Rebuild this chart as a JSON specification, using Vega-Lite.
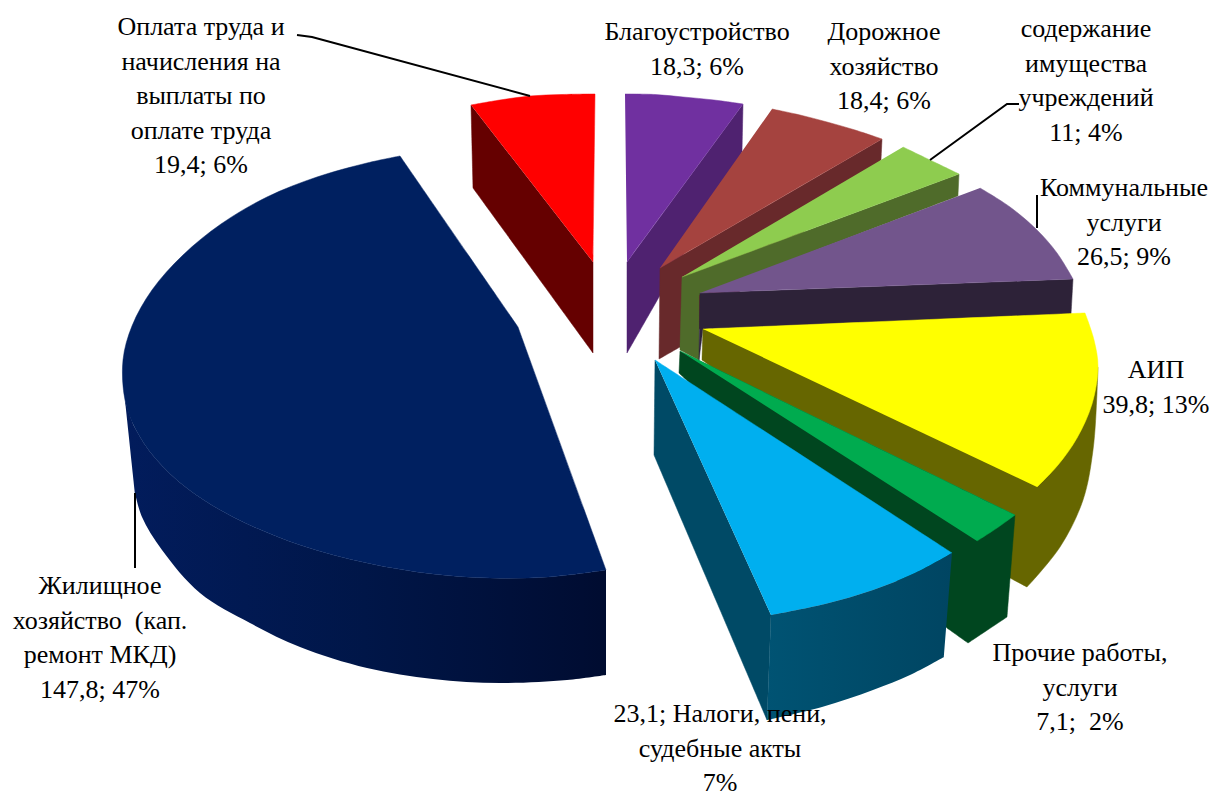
{"$schema":"https://vega.github.io/schema/vega-lite/v6.json","width":1213,"height":797,"padding":0,"autosize":{"type":"none"},"background":"white","config":{"view":{"stroke":null}},
"datasets":{
"faces":[
{"id":"01 red side","s":0,"x":471,"y":105},{"id":"01 red side","s":1,"x":471,"y":105},{"id":"01 red side","s":2,"x":473,"y":188},{"id":"01 red side","s":3,"x":473,"y":188},{"id":"01 red side","s":4,"x":593,"y":353},{"id":"01 red side","s":5,"x":593,"y":353},{"id":"01 red side","s":6,"x":593,"y":262},{"id":"01 red side","s":7,"x":593,"y":262},
{"id":"02 red top","s":0,"x":471,"y":105},{"id":"02 red top","s":1,"x":471,"y":105},{"id":"02 red top","s":2,"x":500,"y":100},{"id":"02 red top","s":3,"x":530,"y":96},{"id":"02 red top","s":4,"x":562,"y":94.5},{"id":"02 red top","s":5,"x":595,"y":94},{"id":"02 red top","s":6,"x":595,"y":94},{"id":"02 red top","s":7,"x":593,"y":262},{"id":"02 red top","s":8,"x":593,"y":262},
{"id":"04 navy top","s":0,"x":400,"y":156},{"id":"04 navy top","s":1,"x":400,"y":156},{"id":"04 navy top","s":2,"x":367,"y":163},{"id":"04 navy top","s":3,"x":317,"y":177},{"id":"04 navy top","s":4,"x":267,"y":197},{"id":"04 navy top","s":5,"x":221,"y":224},{"id":"04 navy top","s":6,"x":183,"y":255},{"id":"04 navy top","s":7,"x":152,"y":290},{"id":"04 navy top","s":8,"x":132,"y":326},{"id":"04 navy top","s":9,"x":123,"y":360},{"id":"04 navy top","s":10,"x":125,"y":400},{"id":"04 navy top","s":11,"x":135,"y":428},{"id":"04 navy top","s":12,"x":155,"y":458},{"id":"04 navy top","s":13,"x":188,"y":489},{"id":"04 navy top","s":14,"x":235,"y":518},{"id":"04 navy top","s":15,"x":300,"y":545},{"id":"04 navy top","s":16,"x":367,"y":563},{"id":"04 navy top","s":17,"x":433,"y":574},{"id":"04 navy top","s":18,"x":490,"y":578},{"id":"04 navy top","s":19,"x":548,"y":577},{"id":"04 navy top","s":20,"x":606,"y":570},{"id":"04 navy top","s":21,"x":606,"y":570},{"id":"04 navy top","s":22,"x":518,"y":327},{"id":"04 navy top","s":23,"x":518,"y":327},{"id":"04 navy top","s":24,"x":400,"y":156},{"id":"04 navy top","s":25,"x":400,"y":156},
{"id":"05 purple side","s":0,"x":743,"y":104},{"id":"05 purple side","s":1,"x":743,"y":104},{"id":"05 purple side","s":2,"x":742,"y":152},{"id":"05 purple side","s":3,"x":742,"y":152},{"id":"05 purple side","s":4,"x":627,"y":353},{"id":"05 purple side","s":5,"x":627,"y":353},{"id":"05 purple side","s":6,"x":627,"y":262},{"id":"05 purple side","s":7,"x":627,"y":262},
{"id":"06 purple top","s":0,"x":625,"y":94},{"id":"06 purple top","s":1,"x":625,"y":94},{"id":"06 purple top","s":2,"x":655,"y":94.5},{"id":"06 purple top","s":3,"x":683,"y":97},{"id":"06 purple top","s":4,"x":714,"y":100},{"id":"06 purple top","s":5,"x":743,"y":104},{"id":"06 purple top","s":6,"x":743,"y":104},{"id":"06 purple top","s":7,"x":627,"y":262},{"id":"06 purple top","s":8,"x":627,"y":262},
{"id":"07 brown side","s":0,"x":882,"y":139},{"id":"07 brown side","s":1,"x":882,"y":139},{"id":"07 brown side","s":2,"x":881,"y":160},{"id":"07 brown side","s":3,"x":881,"y":160},{"id":"07 brown side","s":4,"x":680,"y":347},{"id":"07 brown side","s":5,"x":680,"y":347},{"id":"07 brown side","s":6,"x":659,"y":359},{"id":"07 brown side","s":7,"x":659,"y":359},{"id":"07 brown side","s":8,"x":660,"y":268},{"id":"07 brown side","s":9,"x":660,"y":268},
{"id":"08 brown top","s":0,"x":772,"y":109},{"id":"08 brown top","s":1,"x":772,"y":109},{"id":"08 brown top","s":2,"x":800,"y":115},{"id":"08 brown top","s":3,"x":827,"y":122},{"id":"08 brown top","s":4,"x":855,"y":130},{"id":"08 brown top","s":5,"x":882,"y":139},{"id":"08 brown top","s":6,"x":882,"y":139},{"id":"08 brown top","s":7,"x":660,"y":268},{"id":"08 brown top","s":8,"x":660,"y":268},
{"id":"09 lime side","s":0,"x":959,"y":174},{"id":"09 lime side","s":1,"x":959,"y":174},{"id":"09 lime side","s":2,"x":958,"y":196},{"id":"09 lime side","s":3,"x":958,"y":196},{"id":"09 lime side","s":4,"x":699,"y":295},{"id":"09 lime side","s":5,"x":699,"y":295},{"id":"09 lime side","s":6,"x":699,"y":360},{"id":"09 lime side","s":7,"x":699,"y":360},{"id":"09 lime side","s":8,"x":680,"y":350},{"id":"09 lime side","s":9,"x":680,"y":350},{"id":"09 lime side","s":10,"x":682,"y":277},{"id":"09 lime side","s":11,"x":682,"y":277},
{"id":"10 lime top","s":0,"x":903,"y":147},{"id":"10 lime top","s":1,"x":903,"y":147},{"id":"10 lime top","s":2,"x":930,"y":160},{"id":"10 lime top","s":3,"x":959,"y":174},{"id":"10 lime top","s":4,"x":959,"y":174},{"id":"10 lime top","s":5,"x":682,"y":277},{"id":"10 lime top","s":6,"x":682,"y":277},
{"id":"11 violet side","s":0,"x":1073,"y":279},{"id":"11 violet side","s":1,"x":1073,"y":279},{"id":"11 violet side","s":2,"x":1071,"y":315},{"id":"11 violet side","s":3,"x":1071,"y":315},{"id":"11 violet side","s":4,"x":703,"y":329},{"id":"11 violet side","s":5,"x":703,"y":329},{"id":"11 violet side","s":6,"x":699,"y":360},{"id":"11 violet side","s":7,"x":699,"y":360},{"id":"11 violet side","s":8,"x":700,"y":293},{"id":"11 violet side","s":9,"x":700,"y":293},
{"id":"12 violet top","s":0,"x":980,"y":188},{"id":"12 violet top","s":1,"x":980,"y":188},{"id":"12 violet top","s":2,"x":1010,"y":207},{"id":"12 violet top","s":3,"x":1037,"y":230},{"id":"12 violet top","s":4,"x":1057,"y":253},{"id":"12 violet top","s":5,"x":1073,"y":279},{"id":"12 violet top","s":6,"x":1073,"y":279},{"id":"12 violet top","s":7,"x":700,"y":293},{"id":"12 violet top","s":8,"x":700,"y":293},
{"id":"13 yellow side","s":0,"x":703,"y":329},{"id":"13 yellow side","s":1,"x":703,"y":329},{"id":"13 yellow side","s":2,"x":702,"y":360},{"id":"13 yellow side","s":3,"x":702,"y":360},{"id":"13 yellow side","s":4,"x":1010,"y":578},{"id":"13 yellow side","s":5,"x":1010,"y":578},{"id":"13 yellow side","s":6,"x":1027,"y":587},{"id":"13 yellow side","s":7,"x":1027,"y":587},{"id":"13 yellow side","s":8,"x":1060,"y":547},{"id":"13 yellow side","s":9,"x":1083,"y":500},{"id":"13 yellow side","s":10,"x":1093,"y":450},{"id":"13 yellow side","s":11,"x":1097,"y":393},{"id":"13 yellow side","s":12,"x":1098,"y":367},{"id":"13 yellow side","s":13,"x":1098,"y":367},
{"id":"14 yellow top","s":0,"x":703,"y":329},{"id":"14 yellow top","s":1,"x":703,"y":329},{"id":"14 yellow top","s":2,"x":1085,"y":313},{"id":"14 yellow top","s":3,"x":1085,"y":313},{"id":"14 yellow top","s":4,"x":1094,"y":340},{"id":"14 yellow top","s":5,"x":1098,"y":367},{"id":"14 yellow top","s":6,"x":1092,"y":404},{"id":"14 yellow top","s":7,"x":1077,"y":438},{"id":"14 yellow top","s":8,"x":1058,"y":465},{"id":"14 yellow top","s":9,"x":1037,"y":487},{"id":"14 yellow top","s":10,"x":1037,"y":487},
{"id":"15 green side","s":0,"x":680,"y":351},{"id":"15 green side","s":1,"x":680,"y":351},{"id":"15 green side","s":2,"x":679,"y":373},{"id":"15 green side","s":3,"x":679,"y":373},{"id":"15 green side","s":4,"x":947,"y":628},{"id":"15 green side","s":5,"x":947,"y":628},{"id":"15 green side","s":6,"x":968,"y":643},{"id":"15 green side","s":7,"x":968,"y":643},{"id":"15 green side","s":8,"x":1007,"y":617},{"id":"15 green side","s":9,"x":1007,"y":617},{"id":"15 green side","s":10,"x":1015,"y":515},{"id":"15 green side","s":11,"x":1015,"y":515},
{"id":"16 green top","s":0,"x":680,"y":351},{"id":"16 green top","s":1,"x":680,"y":351},{"id":"16 green top","s":2,"x":1015,"y":515},{"id":"16 green top","s":3,"x":1015,"y":515},{"id":"16 green top","s":4,"x":997,"y":528},{"id":"16 green top","s":5,"x":977,"y":541},{"id":"16 green top","s":6,"x":977,"y":541},
{"id":"17 blue side","s":0,"x":655,"y":360},{"id":"17 blue side","s":1,"x":655,"y":360},{"id":"17 blue side","s":2,"x":654,"y":455},{"id":"17 blue side","s":3,"x":654,"y":455},{"id":"17 blue side","s":4,"x":767,"y":720},{"id":"17 blue side","s":5,"x":767,"y":720},{"id":"17 blue side","s":6,"x":771,"y":615},{"id":"17 blue side","s":7,"x":771,"y":615},
{"id":"18 blue top","s":0,"x":655,"y":360},{"id":"18 blue top","s":1,"x":655,"y":360},{"id":"18 blue top","s":2,"x":952,"y":553},{"id":"18 blue top","s":3,"x":952,"y":553},{"id":"18 blue top","s":4,"x":915,"y":573},{"id":"18 blue top","s":5,"x":873,"y":590},{"id":"18 blue top","s":6,"x":825,"y":604},{"id":"18 blue top","s":7,"x":771,"y":615},{"id":"18 blue top","s":8,"x":771,"y":615}
],
"navyside":[
{"s":0,"x":606,"y":570},{"s":1,"x":606,"y":570},{"s":2,"x":548,"y":577},{"s":3,"x":490,"y":578},{"s":4,"x":433,"y":574},{"s":5,"x":367,"y":563},{"s":6,"x":300,"y":545},{"s":7,"x":235,"y":518},{"s":8,"x":188,"y":489},{"s":9,"x":155,"y":458},{"s":10,"x":135,"y":428},{"s":11,"x":125,"y":400},{"s":12,"x":125,"y":400},{"s":13,"x":135,"y":493},{"s":14,"x":135,"y":493},{"s":15,"x":142,"y":517},{"s":16,"x":162,"y":550},{"s":17,"x":200,"y":593},{"s":18,"x":250,"y":623},{"s":19,"x":300,"y":647},{"s":20,"x":367,"y":668},{"s":21,"x":433,"y":679},{"s":22,"x":500,"y":683},{"s":23,"x":567,"y":680},{"s":24,"x":606,"y":675},{"s":25,"x":606,"y":675}
],
"bluefront":[
{"s":0,"x":771,"y":615},{"s":1,"x":771,"y":615},{"s":2,"x":825,"y":604},{"s":3,"x":873,"y":590},{"s":4,"x":915,"y":573},{"s":5,"x":952,"y":553},{"s":6,"x":952,"y":553},{"s":7,"x":944,"y":657},{"s":8,"x":944,"y":657},{"s":9,"x":910,"y":675},{"s":10,"x":873,"y":690},{"s":11,"x":822,"y":707},{"s":12,"x":767,"y":720},{"s":13,"x":767,"y":720}
],
"leaders":[
{"id":"a","s":0,"x":297,"y":35},{"id":"a","s":1,"x":312,"y":37},{"id":"a","s":2,"x":530,"y":96},
{"id":"b","s":0,"x":930,"y":160},{"id":"b","s":1,"x":1007,"y":104},{"id":"b","s":2,"x":1019,"y":104},
{"id":"c","s":0,"x":1037,"y":195},{"id":"c","s":1,"x":1037,"y":228},
{"id":"d","s":0,"x":135,"y":493},{"id":"d","s":1,"x":135,"y":568}
],
"labels":[
{"name":"Оплата труда и начисления на выплаты по оплате труда","value":19.4,"share":6,"x":201,"y":27,"t":["Оплата труда и","начисления на","выплаты по","оплате труда","19,4; 6%"]},
{"name":"Благоустройство","value":18.3,"share":6,"x":697,"y":32,"t":["Благоустройство","18,3; 6%"]},
{"name":"Дорожное хозяйство","value":18.4,"share":6,"x":884,"y":32,"t":["Дорожное","хозяйство","18,4; 6%"]},
{"name":"содержание имущества учреждений","value":11,"share":4,"x":1086,"y":29,"t":["содержание","имущества","учреждений","11; 4%"]},
{"name":"Коммунальные услуги","value":26.5,"share":9,"x":1124,"y":188,"t":["Коммунальные","услуги","26,5; 9%"]},
{"name":"АИП","value":39.8,"share":13,"x":1156,"y":370,"t":["АИП","39,8; 13%"]},
{"name":"Прочие работы, услуги","value":7.1,"share":2,"x":1080,"y":653,"t":["Прочие работы,","услуги","7,1;\u00a0 2%"]},
{"name":"Налоги, пени, судебные акты","value":23.1,"share":7,"x":720,"y":714,"t":["23,1; Налоги, пени,","судебные акты","7%"]},
{"name":"Жилищное хозяйство (кап. ремонт МКД)","value":147.8,"share":47,"x":100,"y":586,"t":["Жилищное","хозяйство\u00a0 (кап.","ремонт МКД)","147,8; 47%"]}
]},
"encoding":{"x":{"field":"x","type":"quantitative","scale":{"domain":[0,1213]},"axis":null},"y":{"field":"y","type":"quantitative","scale":{"domain":[797,0]},"axis":null}},
"layer":[
{"data":{"name":"navyside"},"mark":{"type":"line","interpolate":"catmull-rom","strokeWidth":0,"fill":{"x1":0,"y1":0,"x2":1,"y2":0,"gradient":"linear","stops":[{"offset":0,"color":"#021c5c"},{"offset":0.5,"color":"#001648"},{"offset":0.95,"color":"#000d33"},{"offset":1,"color":"#000c30"}]}},"encoding":{"order":{"field":"s"}}},
{"data":{"name":"faces"},"mark":{"type":"line","interpolate":"catmull-rom","strokeWidth":0.5},"encoding":{"order":{"field":"s"},"detail":{"field":"id"},
"fill":{"field":"id","type":"nominal","legend":null,"scale":{"domain":["01 red side","02 red top","04 navy top","05 purple side","06 purple top","07 brown side","08 brown top","09 lime side","10 lime top","11 violet side","12 violet top","13 yellow side","14 yellow top","15 green side","16 green top","17 blue side","18 blue top"],"range":["#650000","#ff0000","#002060","#4f2270","#7030a0","#68292b","#a5433f","#4f6b2a","#8ecc4f","#2d2238","#72558c","#666600","#ffff00","#00461f","#00ab4f","#004a66","#00afef"]}},
"stroke":{"field":"id","type":"nominal","legend":null,"scale":{"domain":["01 red side","02 red top","04 navy top","05 purple side","06 purple top","07 brown side","08 brown top","09 lime side","10 lime top","11 violet side","12 violet top","13 yellow side","14 yellow top","15 green side","16 green top","17 blue side","18 blue top"],"range":["#650000","#ff0000","#002060","#4f2270","#7030a0","#68292b","#a5433f","#4f6b2a","#8ecc4f","#2d2238","#72558c","#666600","#ffff00","#00461f","#00ab4f","#004a66","#00afef"]}}}},
{"data":{"name":"bluefront"},"mark":{"type":"line","interpolate":"catmull-rom","strokeWidth":0,"fill":{"x1":0,"y1":0,"x2":1,"y2":0,"gradient":"linear","stops":[{"offset":0,"color":"#005373"},{"offset":1,"color":"#004562"}]}},"encoding":{"order":{"field":"s"}}},
{"data":{"name":"leaders"},"mark":{"type":"line","stroke":"#000000","strokeWidth":2},"encoding":{"order":{"field":"s"},"detail":{"field":"id"}}},
{"data":{"name":"labels"},"mark":{"type":"text","font":"Liberation Serif","fontSize":26,"lineHeight":34.5,"align":"center","baseline":"middle","color":"#000000"},"encoding":{"text":{"field":"t"}}}
]}
